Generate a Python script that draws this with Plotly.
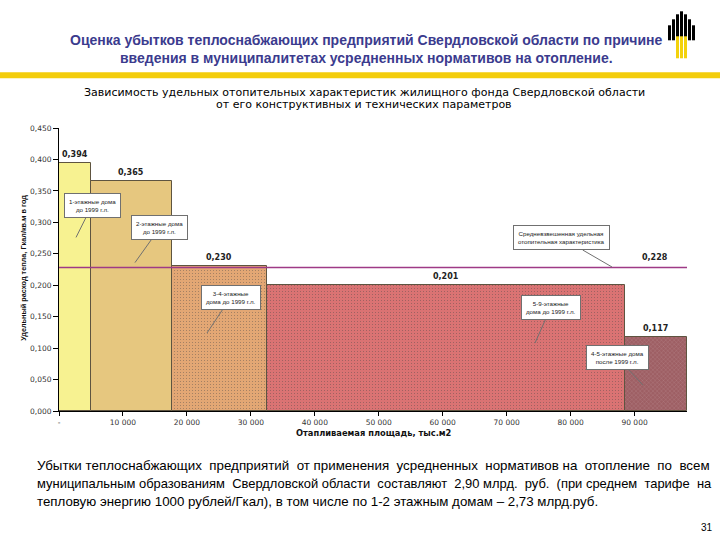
import plotly.graph_objects as go

# heated area of each building group, thousand m2, and specific heat consumption
groups = ["1-этажные дома до 1999 г.л.", "2-этажные дома до 1999 г.л.", "3-4-этажные дома до 1999 г.л.",
          "5-9-этажные дома до 1999 г.л.", "4-5-этажные дома после 1999 г.л."]
areas = [4950, 12750, 14750, 56000, 9750]
values = [0.394, 0.365, 0.230, 0.201, 0.117]
avg_value = 0.228
colors = ["#F7F291", "#E6C77F", "#E3A774", "#DA7373", "#9E5F64"]

x_tickvals = [0, 10000, 20000, 30000, 40000, 50000, 60000, 70000, 80000, 90000]
x_ticktext = ["-", "10 000", "20 000", "30 000", "40 000", "50 000", "60 000", "70 000", "80 000", "90 000"]
y_tickvals = [0, 0.05, 0.1, 0.15, 0.2, 0.25, 0.3, 0.35, 0.4, 0.45]

# plot area in pixels
L, R, T, B = 59, 687, 127.7, 410.7
W, H = 720, 540

def px(x):
    return (x - L) / (R - L)

def py(y):
    return (B - y) / (B - T)

def widen(line, extra):
    # spread some extra no-break spaces over the gaps to imitate justified text
    words = line.split(" ")
    gaps = len(words) - 1
    out = words[0]
    for i, w in enumerate(words[1:]):
        pad = "\u00a0" if (i * extra) // gaps != ((i + 1) * extra) // gaps else ""
        out += " " + pad + w
    return out

total = sum(areas)
lefts = [sum(areas[:i]) for i in range(len(areas))]
centers = [l + a / 2 for l, a in zip(lefts, areas)]

fig = go.Figure()
fig.add_trace(go.Bar(
    x=centers, y=values, width=areas,
    marker=dict(color=colors, line=dict(color="#5E5440", width=1),
                pattern=dict(shape=["", "", ".", ".", "x"], size=3, solidity=0.1,
                             fgcolor=["#F7F291", "#E6C77F", "#D4966A", "#BE5E60", "#7A4247"])),
    showlegend=False, hoverinfo="skip"))
fig.add_trace(go.Scatter(x=[0, total], y=[avg_value, avg_value], mode="lines",
                         line=dict(color="#9E3A86", width=1.5), showlegend=False, hoverinfo="skip"))

lab_font = dict(family="DejaVu Sans", size=8, color="#222222")
for c, v in zip(centers, values):
    fig.add_annotation(x=c, y=v, text="<b>" + f"{v:.3f}".replace(".", ",") + "</b>",
                       showarrow=False, yanchor="bottom", yshift=2, font=lab_font)
fig.add_annotation(x=total, y=avg_value, text="<b>" + f"{avg_value:.3f}".replace(".", ",") + "</b>",
                   showarrow=False, xanchor="right", yanchor="bottom", yshift=4, xshift=-17, font=lab_font)

# callouts: (text, tip x, tip y, offset x, offset y)
callouts = [
    ("1-этажные дома<br>до 1999 г.л.", 2660, 0.276, 16, -32),
    ("2-этажные дома<br>до 1999 г.л.", 11880, 0.236, 25, -35),
    ("3-4-этажные<br>дома до 1999 г.л.", 23140, 0.124, 24, -36),
    ("5-9-этажные<br>дома до 1999 г.л.", 74430, 0.108, 16, -36),
    ("4-5-этажные дома<br>после 1999 г.л.", 91320, 0.041, -26, -28),
    ("Средневзвешенная удельная<br>отопительная характеристика", 86470, 0.229, -50, -29),
]
for text, tx, ty, ax, ay in callouts:
    fig.add_annotation(x=tx, y=ty, text=text, showarrow=True, arrowhead=0, arrowwidth=1,
                       arrowcolor="#707070", ax=ax, ay=ay, bgcolor="white", bordercolor="#707070",
                       borderwidth=1, borderpad=4, font=dict(family="Liberation Sans", size=6.2, color="#222222"))

fig.update_xaxes(range=[0, total], tickvals=x_tickvals, ticktext=x_ticktext, ticks="outside", ticklen=4,
                 tickcolor="black", showline=True, linecolor="black", linewidth=1, showgrid=False,
                 zeroline=False, tickfont=dict(family="DejaVu Sans", size=7.5, color="#333333"))
fig.update_yaxes(range=[0, 0.45], tickvals=y_tickvals, tickformat=".3f", ticks="outside", ticklen=5,
                 tickcolor="black", showline=True, linecolor="black", linewidth=1, showgrid=False,
                 zeroline=False, tickfont=dict(family="DejaVu Sans", size=7.5, color="#333333"))

title_font = dict(family="Liberation Sans, Arial, sans-serif", size=14, color="#3B3B8E")
small_font = dict(family="DejaVu Sans", size=11, color="black")

def body_font(size):
    return dict(family="Liberation Sans, Arial, sans-serif", size=size, color="black")

texts = [
    ("<b>Оценка убытков теплоснабжающих предприятий Свердловской области по причине</b>", 366, 40, "center", title_font),
    ("<b>введения в муниципалитетах усредненных нормативов на отопление.</b>", 366, 58, "center", title_font),
    ("Зависимость удельных отопительных характеристик жилищного фонда Свердловской области", 364, 92, "center", small_font),
    ("от его конструктивных и технических параметров", 364, 104, "center", small_font),
    ("<b>Отапливаемая площадь, тыс.м2</b>", 374, 433, "center", dict(family="DejaVu Sans", size=8.3, color="#111111")),
    (widen("Убытки теплоснабжающих предприятий от применения усредненных нормативов на отопление по всем", 7),
     35, 465, "left", body_font(13.35)),
    (widen("муниципальным образованиям Свердловской области составляют 2,90 млрд. руб. (при среднем тарифе на", 7),
     35, 483, "left", body_font(12.95)),
    ("тепловую энергию 1000 рублей/Гкал), в том числе по 1-2 этажным домам – 2,73 млрд.руб.",
     35, 501, "left", body_font(13.3)),
    ("31", 707, 527, "center", dict(family="Liberation Sans, Arial, sans-serif", size=10, color="black")),
]
for text, x, y, anchor, font in texts:
    fig.add_annotation(x=px(x), y=py(y), xref="paper", yref="paper", text=text, showarrow=False,
                       xanchor=anchor, yanchor="middle", font=font)

fig.add_annotation(x=px(17), y=py(268), xref="paper", yref="paper", text="<b>Удельный расход тепла, Гкал/кв.м в год</b>",
                   showarrow=False, textangle=-90, font=dict(family="Liberation Sans, Arial, sans-serif", size=7.3, color="#111111"))

# yellow header band
fig.add_shape(type="rect", xref="paper", yref="paper", x0=px(0), x1=px(720), y0=py(78), y1=py(72),
              fillcolor="#F3CD0C", line_width=0, layer="below")

# logo: black dome of bars with yellow bars below
logo_bars = [(668, 25), (672, 19), (676, 14), (680, 11), (684, 14), (688, 19), (692, 25)]
for x0, top in logo_bars:
    fig.add_shape(type="rect", xref="paper", yref="paper", x0=px(x0), x1=px(x0 + 3), y0=py(40), y1=py(top),
                  fillcolor="black", line_width=0)
for x0 in [676, 680, 684]:
    fig.add_shape(type="rect", xref="paper", yref="paper", x0=px(x0), x1=px(x0 + 3), y0=py(58), y1=py(36),
                  fillcolor="#F3D20C", line_width=0)

fig.update_layout(width=W, height=H, margin=dict(l=L, r=W - R, t=T, b=H - B),
                  paper_bgcolor="white", plot_bgcolor="white", separators=", ", bargap=0)

fig.write_html("out.html", config={"displayModeBar": False},
               post_script="document.body.style.margin='0';")
